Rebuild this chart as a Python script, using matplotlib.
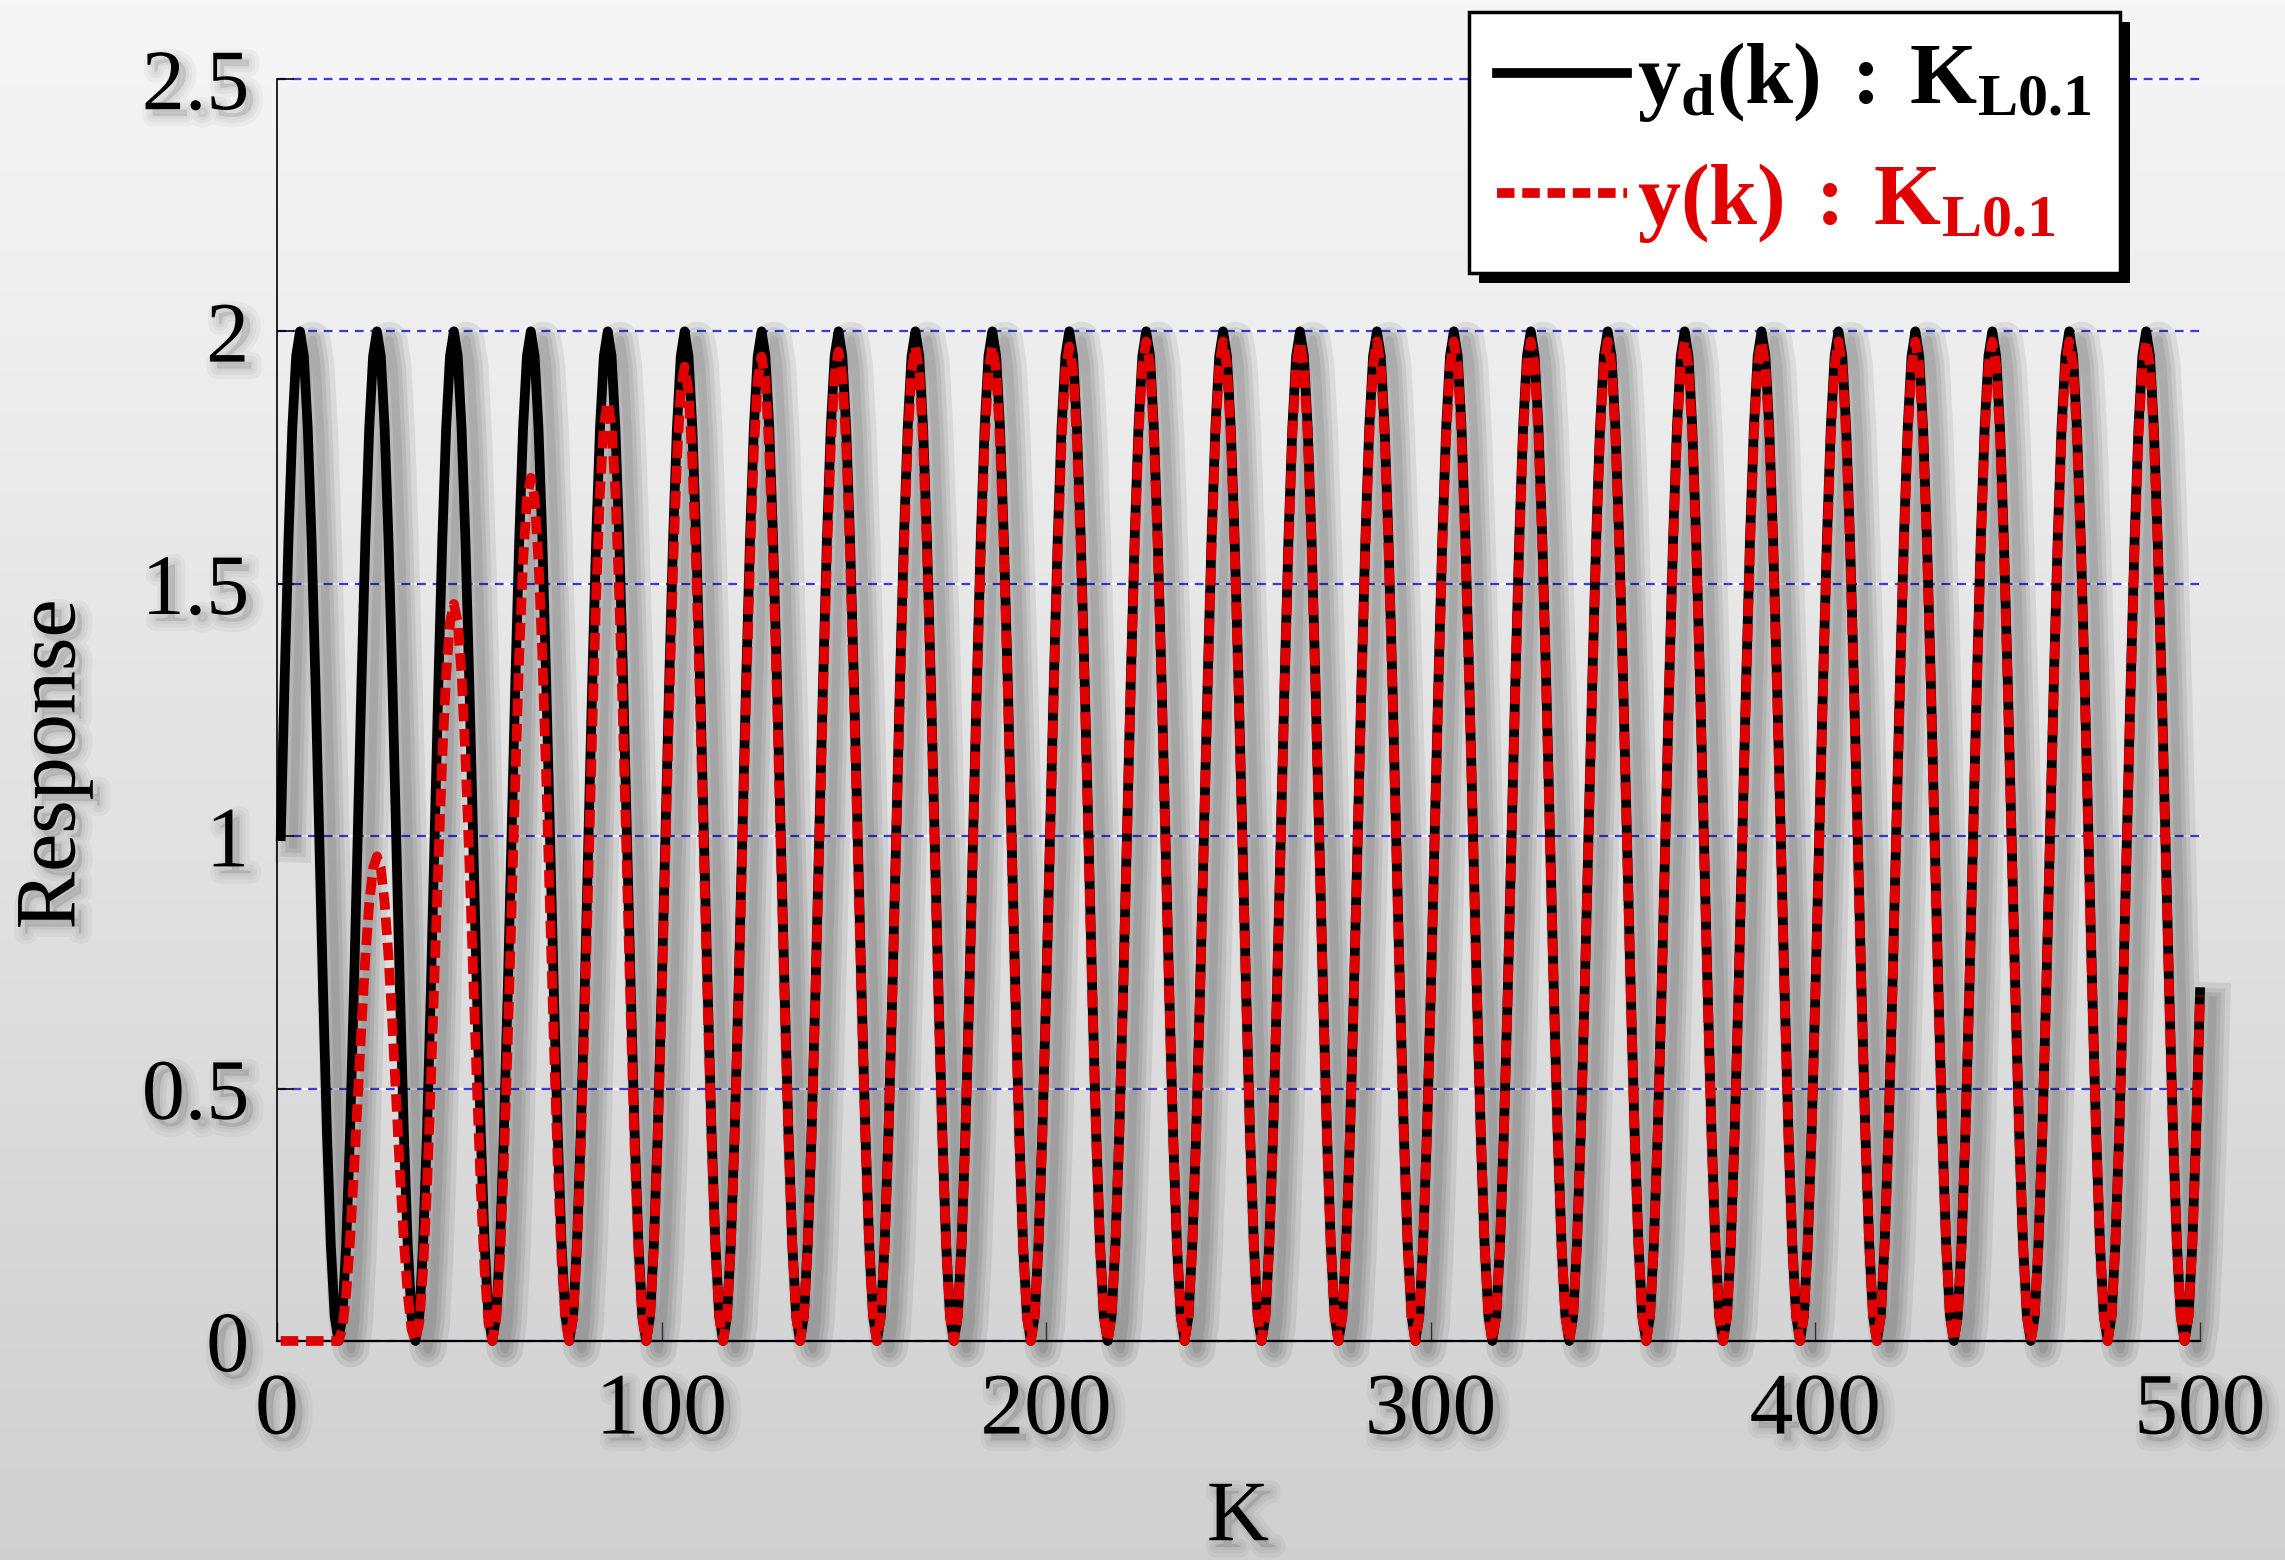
import numpy as np
import matplotlib
matplotlib.use("Agg")
import matplotlib.pyplot as plt
import matplotlib.patheffects as pe
from matplotlib.lines import Line2D

plt.rcParams['font.family'] = ['Liberation Serif', 'DejaVu Serif']
plt.rcParams['mathtext.fontset'] = 'custom'
plt.rcParams['mathtext.rm'] = 'Liberation Serif'
plt.rcParams['mathtext.it'] = 'Liberation Serif:italic'
plt.rcParams['mathtext.bf'] = 'Liberation Serif:bold'

# desired trajectory: offset 1, amplitude 1, period 20 samples
k = np.arange(1, 501)
yd_offset = 1.0
yd_amplitude = 1.0
yd_period = 20
yd_phase = 1          # yd = 1 at k = 1, rising

# actual output: zero until the first trough, then one peak height per cycle
y_start = 16          # first trough of yd, red stays at 0 before this
y_peaks = [0.96, 1.46, 1.71, 1.86, 1.93, 1.95, 1.96, 1.97, 1.97, 1.97,
           1.98, 1.98, 1.98, 1.98, 1.98, 1.98, 1.98, 1.98, 1.98, 1.98,
           1.98, 1.98, 1.98, 1.98, 1.98]

yticks = [0, 0.5, 1, 1.5, 2, 2.5]
yticklabels = ['0', '0.5', '1', '1.5', '2', '2.5']
xticks = [0, 100, 200, 300, 400, 500]

yd = yd_offset + yd_amplitude * np.sin(2 * np.pi * (k - yd_phase) / yd_period)
cycle = (k - y_start) // yd_period
gain = np.array([y_peaks[c] / 2 if c >= 0 else 0.0 for c in cycle])
y = yd * gain

fig = plt.figure(figsize=(22.85, 15.6), dpi=100)

# grey gradient background
bg = fig.add_axes([0, 0, 1, 1], zorder=-10)
grad = np.linspace(0.965, 0.815, 256).reshape(-1, 1)
bg.imshow(np.dstack([grad] * 3), aspect='auto', extent=[0, 1, 0, 1])
bg.set_axis_off()

ax = fig.add_axes([0.1212, 0.1404, 0.8416, 0.809])
ax.set_facecolor('none')

# soft shadows, offset to the lower right
def soft(off=(9, -6), widths=(6, 12, 18, 26), a=0.075):
    return [pe.Stroke(linewidth=w, foreground='k', alpha=a, offset=off) for w in widths] + [pe.Normal()]

txt_shadow = [pe.Stroke(linewidth=w, foreground='k', alpha=0.035, offset=(5, -5)) for w in (4, 9, 15)] + [pe.Normal()]

# dashed blue grid with white gaps
for yy in yticks:
    ax.axhline(yy, color='white', lw=1.6, zorder=1, clip_on=False)
    ax.axhline(yy, color='#3a3ae0', lw=1.6, ls=(0, (4, 3)), zorder=1.1, clip_on=False)

ax.plot(k, yd, color='black', lw=7, zorder=3, clip_on=False,
        solid_joinstyle='round', path_effects=soft())
ax.plot(k, y, color='#e00000', lw=7, dashes=(1.8, 0.8), zorder=4, clip_on=False,
        dash_joinstyle='round')

ax.set_xlim(0, 500)
ax.set_ylim(0, 2.5)
ax.set_xticks(xticks)
ax.set_xticklabels([str(t) for t in xticks])
ax.set_yticks(yticks)
ax.set_yticklabels(yticklabels)

ax.spines['top'].set_visible(False)
ax.spines['right'].set_visible(False)
ax.spines['left'].set_linewidth(1.2)
ax.spines['bottom'].set_linewidth(1.6)
ax.tick_params(axis='x', direction='in', length=14, width=1, color='#444444',
               labelsize=63, pad=22)
ax.tick_params(axis='y', direction='in', length=12, width=1.2, color='black',
               labelsize=62, pad=20)
for lab in ax.get_xticklabels() + ax.get_yticklabels():
    lab.set_path_effects(txt_shadow)

fig.text(0.5418, 0.026, 'K', fontsize=62, ha='center', va='center',
         path_effects=txt_shadow)
fig.text(0.0235, 0.51, 'Response', fontsize=62, rotation=90, ha='center',
         va='center', path_effects=txt_shadow)

handles = [Line2D([], [], color='black', lw=7),
           Line2D([], [], color='#e00000', lw=7, dashes=(1.8, 0.8))]
labels = [r'$\mathbf{y_d(k)\;:\;K_{L0.1}}$', r'$\mathbf{y(k)\;:\;K_{L0.1}}$']
leg = ax.legend(handles, labels, loc='upper left',
                bbox_to_anchor=(1469 / 2285, 1 - 12 / 1560),
                bbox_transform=fig.transFigure, fontsize=62, frameon=True,
                fancybox=False, framealpha=1, edgecolor='black',
                handlelength=1.5, handletextpad=0.12, borderpad=0.33,
                labelspacing=0.42, borderaxespad=0)
leg.get_frame().set_linewidth(2.5)
leg.get_frame().set_path_effects([pe.SimplePatchShadow(offset=(7, -7), shadow_rgbFace='k', alpha=1),
                                  pe.Normal()])
leg.set_zorder(10)
for t, c in zip(leg.get_texts(), ['black', '#e00000']):
    t.set_color(c)

fig.savefig('out.png', dpi=100)
